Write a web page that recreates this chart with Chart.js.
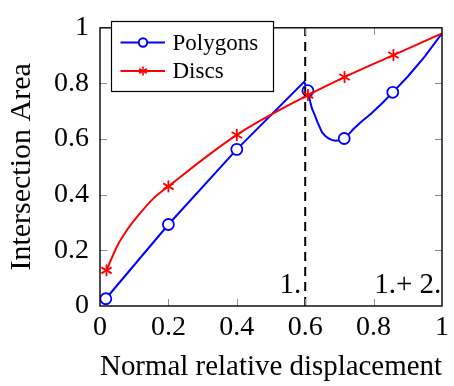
<!DOCTYPE html>
<html><head><meta charset="utf-8">
<script src="https://cdn.jsdelivr.net/npm/chart.js@4/dist/chart.umd.min.js"></script>
<style>
@font-face{font-family:'ChartSerif';src:local('Liberation Serif'),local('LiberationSerif'),local('LiberationSerif-Regular');}
html,body{margin:0;padding:0;background:#fff;overflow:hidden}
#wrap{width:454px;height:386px;position:relative}
#warm{position:absolute;left:-2000px;top:0;font-family:'Liberation Serif','ChartSerif',serif;font-size:28px}
</style>
</head><body><div id="warm">.</div><div id="wrap"><canvas id="c" width="454" height="386"></canvas></div>
<script>
// ---- data ----
const xTickValues = [0, 0.2, 0.4, 0.6, 0.8, 1];
const yTickValues = [0, 0.2, 0.4, 0.6, 0.8, 1];

const polygonsLabel = 'Polygons';
const polygonsX = [0.017, 0.2, 0.4, 0.597, 0.608, 0.611, 0.615, 0.620, 0.628, 0.635, 0.642, 0.649, 0.658, 0.669, 0.678, 0.688, 0.699, 0.714, 0.727, 0.741, 0.765, 0.794, 0.825, 0.856, 0.9, 0.95, 1.0];
const polygonsY = [0.026, 0.293, 0.563, 0.806, 0.774, 0.755, 0.732, 0.709, 0.686, 0.664, 0.644, 0.625, 0.612, 0.602, 0.597, 0.594, 0.596, 0.602, 0.617, 0.636, 0.663, 0.693, 0.729, 0.768, 0.825, 0.897, 0.98];
const polygonsMarked = [1, 1, 1, 0, 1, 0, 0, 0, 0, 0, 0, 0, 0, 0, 0, 0, 0, 1, 0, 0, 0, 0, 0, 1, 0, 0, 0];

const discsLabel = 'Discs';
const discsX = [0.019, 0.03, 0.05, 0.08, 0.115, 0.155, 0.2, 0.4, 0.608, 0.715, 0.858, 1.0];
const discsY = [0.128, 0.16, 0.215, 0.275, 0.33, 0.385, 0.43, 0.615, 0.758, 0.823, 0.902, 0.98];
const discsMarked = [1, 0, 0, 0, 0, 0, 1, 1, 1, 1, 1, 0];

const dividerX = 0.6;
const dividerY = [0, 1];
const regionLabels = ['1.', '1.+ 2.'];
const regionLabelX = [0.6, 0.9];
const xTitle = 'Normal relative displacement';
const yTitle = 'Intersection Area';

// ---- styling ----
const BLUE = '#0000ff', RED = '#ff0000';
const FONT = "'Liberation Serif', 'ChartSerif', 'DejaVu Serif', 'Noto Serif', Times, serif";
const SZ_TICK = 28, SZ_TITLE = 30, SZ_LEG = 23, SZ_ANN = 29;
Chart.defaults.font.family = FONT;

function drawAsterisk(ctx, cx, cy, r, lw) {
  ctx.save();
  ctx.strokeStyle = RED; ctx.lineWidth = lw; ctx.lineCap = 'butt';
  for (const a of [90, 30, 150]) {
    const t = a * Math.PI / 180;
    ctx.beginPath();
    ctx.moveTo(cx - r * Math.cos(t), cy - r * Math.sin(t));
    ctx.lineTo(cx + r * Math.cos(t), cy + r * Math.sin(t));
    ctx.stroke();
  }
  ctx.restore();
}

const toPts = (xs, ys) => xs.map((x, i) => ({x: x, y: ys[i]}));

const frame = {
  id: 'frame',
  afterDatasetsDraw(chart) {
    const {ctx, chartArea: a, scales: {x, y}} = chart;
    const meta = chart.getDatasetMeta(1);
    meta.data.forEach((pt, i) => { if (discsMarked[i]) drawAsterisk(ctx, pt.x, pt.y, 6, 1.8); });

    ctx.save();
    ctx.strokeStyle = '#8c8c8c'; ctx.lineWidth = 1;
    const L = 7;
    xTickValues.forEach(v => {
      if (v === 0 || v === 1) return;
      const px = Math.round(x.getPixelForValue(v)) + 0.5;
      ctx.beginPath(); ctx.moveTo(px, a.bottom); ctx.lineTo(px, a.bottom - L);
      ctx.moveTo(px, a.top); ctx.lineTo(px, a.top + L); ctx.stroke();
    });
    yTickValues.forEach(v => {
      if (v === 0 || v === 1) return;
      const py = Math.round(y.getPixelForValue(v)) + 0.5;
      ctx.beginPath(); ctx.moveTo(a.left, py); ctx.lineTo(a.left + L, py);
      ctx.moveTo(a.right, py); ctx.lineTo(a.right - L, py); ctx.stroke();
    });
    ctx.strokeStyle = '#000'; ctx.lineWidth = 1.4;
    ctx.strokeRect(a.left, a.top, a.right - a.left, a.bottom - a.top);

    ctx.fillStyle = '#000';
    ctx.font = SZ_ANN + "px " + FONT;
    ctx.textBaseline = 'alphabetic';
    const by = y.getPixelForValue(0) - 13.5;
    ctx.textAlign = 'right';
    ctx.fillText(regionLabels[0], x.getPixelForValue(regionLabelX[0]) - 4, by);
    ctx.textAlign = 'center';
    ctx.fillText(regionLabels[1], x.getPixelForValue(regionLabelX[1]), by);

    const bx = 111.5, byy = 21.5, bw = 162, bh = 70;
    ctx.fillStyle = '#fff';
    ctx.fillRect(bx, byy, bw, bh);
    ctx.strokeStyle = '#000'; ctx.lineWidth = 1.2;
    ctx.strokeRect(bx, byy, bw, bh);
    const rows = [42.5, 71];
    const ds = chart.data.datasets;
    [0, 1].forEach(i => {
      const yy = rows[i];
      ctx.strokeStyle = ds[i].borderColor; ctx.lineWidth = 2;
      ctx.beginPath(); ctx.moveTo(120.5, yy); ctx.lineTo(165, yy); ctx.stroke();
      if (i === 0) {
        ctx.beginPath(); ctx.arc(143, yy, 4.2, 0, Math.PI * 2);
        ctx.fillStyle = '#fff'; ctx.fill(); ctx.stroke();
      } else {
        drawAsterisk(ctx, 143, yy, 4.5, 1.6);
      }
      ctx.font = SZ_LEG + "px " + FONT;
      ctx.textAlign = 'left'; ctx.textBaseline = 'middle';
      ctx.fillStyle = '#000';
      ctx.fillText(ds[i].label, 172.5, yy + 1);
    });
    ctx.restore();
  }
};

const chart = new Chart(document.getElementById('c'), {
  type: 'scatter',
  data: {
    datasets: [
      {
        label: polygonsLabel,
        data: toPts(polygonsX, polygonsY),
        showLine: true,
        borderColor: BLUE, borderWidth: 2, tension: 0,
        pointStyle: 'circle',
        pointRadius: polygonsMarked.map(m => m ? 5.5 : 0),
        pointBorderWidth: 1.8,
        pointBorderColor: BLUE,
        pointBackgroundColor: '#ffffff',
        order: 2
      },
      {
        label: discsLabel,
        data: toPts(discsX, discsY),
        showLine: true,
        borderColor: RED, borderWidth: 2,
        cubicInterpolationMode: 'monotone',
        pointRadius: 0,
        order: 1
      },
      {
        label: 'divider',
        data: toPts([dividerX, dividerX], dividerY),
        showLine: true,
        borderColor: '#000', borderWidth: 2,
        borderDash: [9, 6],
        pointRadius: 0,
        order: 0
      }
    ]
  },
  options: {
    responsive: false,
    devicePixelRatio: 1,
    animation: false,
    layout: {padding: {top: 11, right: 7.5, left: 0, bottom: 0}},
    plugins: {legend: {display: false}, tooltip: {enabled: false}},
    scales: {
      x: {
        type: 'linear', min: 0, max: 1,
        afterBuildTicks: s => { s.ticks = xTickValues.map(v => ({value: v})); },
        afterFit: s => { s.height = 80; },
        ticks: {color: '#000', font: {family: FONT, size: SZ_TICK}, padding: 5, maxRotation: 0, autoSkip: false,
          callback: v => String(v)},
        grid: {display: false, drawTicks: false},
        border: {display: false},
        title: {display: true, text: xTitle, color: '#000', font: {family: FONT, size: SZ_TITLE}, padding: {top: 0, bottom: 1}}
      },
      y: {
        type: 'linear', min: 0, max: 1,
        afterBuildTicks: s => { s.ticks = yTickValues.map(v => ({value: v})); },
        afterFit: s => { s.width = 100; },
        ticks: {color: '#000', font: {family: FONT, size: SZ_TICK}, padding: 11, autoSkip: false,
          callback: v => String(v)},
        grid: {display: false, drawTicks: false},
        border: {display: false},
        title: {display: true, text: yTitle, color: '#000', font: {family: FONT, size: SZ_TITLE}, padding: {top: 4, bottom: 0}}
      }
    }
  },
  plugins: [frame]
});
const redraw = () => { try { chart.update('none'); } catch (e) {} };
if (document.fonts) {
  document.fonts.load("28px 'ChartSerif'").then(redraw, redraw);
  document.fonts.ready.then(redraw);
}
requestAnimationFrame(redraw);
</script>
</body></html>
